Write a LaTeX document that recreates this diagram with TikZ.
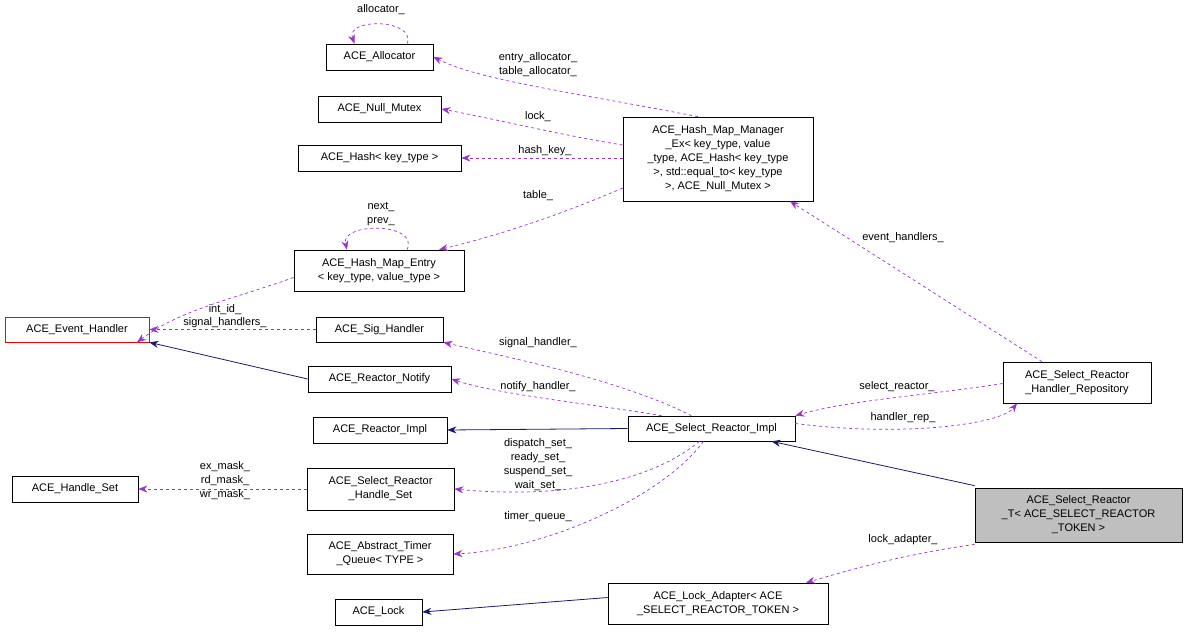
\documentclass[tikz,border=0pt]{standalone}
\usepackage{fontspec}
\setmainfont{Liberation Sans}
\usetikzlibrary{arrows.meta}
\begin{document}
\begin{tikzpicture}[x=1pt,y=-1pt,
 every node/.style={font=\fontsize{11}{14}\selectfont},
 box/.style={draw=black,fill=white,align=center,inner sep=1pt,line width=0.7pt},
 use/.style={draw={rgb,255:red,154;green,50;blue,205},dashed,line width=0.7pt,-{Stealth[length=9pt,width=7pt]}},
 inh/.style={draw={rgb,255:red,25;green,25;blue,112},line width=0.8pt,-{Stealth[length=9pt,width=7pt]}},
 lbl/.style={align=center,inner sep=0pt}]
\useasboundingbox (0,0) rectangle (1187,632);
\node[box,minimum width=107,minimum height=26] (alloc) at (379.5,57) {ACE\_Allocator};
\node[box,minimum width=123,minimum height=26] (nullm) at (379.5,109) {ACE\_Null\_Mutex};
\node[box,minimum width=163,minimum height=26] (hash) at (379.5,158) {ACE\_Hash\textless{} key\_type \textgreater};
\node[box,minimum width=170,minimum height=41] (entry) at (379,270.5) {ACE\_Hash\_Map\_Entry\\\textless{} key\_type, value\_type \textgreater};
\node[box,draw=red,minimum width=144,minimum height=25] (evh) at (77,329.5) {ACE\_Event\_Handler};
\node[box,minimum width=127,minimum height=25] (sig) at (379.5,329.5) {ACE\_Sig\_Handler};
\node[box,minimum width=143,minimum height=26] (notify) at (379.5,379) {ACE\_Reactor\_Notify};
\node[box,minimum width=134,minimum height=26] (rimpl) at (380,430) {ACE\_Reactor\_Impl};
\node[box,minimum width=126,minimum height=26] (hset) at (75,489) {ACE\_Handle\_Set};
\node[box,minimum width=147,minimum height=42] (srhs) at (380.5,489) {ACE\_Select\_Reactor\\\_Handle\_Set};
\node[box,minimum width=146,minimum height=40] (timer) at (380,554) {ACE\_Abstract\_Timer\\\_Queue\textless{} TYPE \textgreater};
\node[box,minimum width=87,minimum height=26] (lock) at (378.5,612) {ACE\_Lock};
\node[box,minimum width=190,minimum height=84] (mgr) at (718,159) {ACE\_Hash\_Map\_Manager\\\_Ex\textless{} key\_type, value\\\_type, ACE\_Hash\textless{} key\_type\\\textgreater, std::equal\_to\textless{} key\_type\\\textgreater, ACE\_Null\_Mutex \textgreater};
\node[box,minimum width=167,minimum height=25] (impl) at (711.5,428.5) {ACE\_Select\_Reactor\_Impl};
\node[box,minimum width=148,minimum height=41] (repo) at (1077,382.5) {ACE\_Select\_Reactor\\\_Handler\_Repository};
\node[box,fill={rgb,255:red,191;green,191;blue,191},minimum width=207,minimum height=54] (T) at (1078.5,515) {ACE\_Select\_Reactor\\\_T\textless{} ACE\_SELECT\_REACTOR\\\_TOKEN \textgreater};
\node[box,minimum width=220,minimum height=41] (ladapt) at (718,603.5) {ACE\_Lock\_Adapter\textless{} ACE\\\_SELECT\_REACTOR\_TOKEN \textgreater};

% loops
\draw[use] ([xshift=28]alloc.north) .. controls (415,18) and (345,18) .. ([xshift=-25]alloc.north);
\node[lbl] at (381,10) {allocator\_};
\draw[use] ([xshift=28]entry.north) .. controls (420,222) and (340,222) .. ([xshift=-32]entry.north);
\node[lbl] at (381,214) {next\_\\prev\_};

% uses
\draw[use] ([xshift=-20]mgr.north) .. controls (560,90) and (480,80) .. (alloc.east);
\node[lbl] at (538,65) {entry\_allocator\_\\table\_allocator\_};
\draw[use] ([yshift=14]mgr.west) .. controls (560,135) and (500,120) .. (nullm.east);
\node[lbl] at (538,117) {lock\_};
\draw[use] (mgr.west |- hash) -- (hash.east);
\node[lbl] at (545,151) {hash\_key\_};
\draw[use] ([yshift=-29]mgr.west) .. controls (560,215) and (500,235) .. ([xshift=60]entry.north);
\node[lbl] at (538,196) {table\_};
\draw[use] ([yshift=-7]entry.west) .. controls (230,300) and (180,310) .. ([xshift=60]evh.south);
\node[lbl] at (225,310) {int\_id\_};
\draw[use] (sig.west) -- (evh.east);
\node[lbl,fill=white,inner sep=1pt] at (225,323) {signal\_handlers\_};
\draw[inh] (notify.west) -- (evh.south east);
\draw[use] ([xshift=-20]impl.north) .. controls (620,380) and (520,360) .. (sig.south east);
\node[lbl] at (538,343) {signal\_handler\_};
\draw[use] ([xshift=-50]impl.north) .. controls (600,405) and (500,395) .. (notify.east);
\node[lbl] at (538,387) {notify\_handler\_};
\draw[inh] (impl.west) -- (rimpl.east);
\draw[use] ([xshift=-12]impl.south) .. controls (640,490) and (540,497) .. (srhs.east);
\node[lbl] at (538,465) {dispatch\_set\_\\ready\_set\_\\suspend\_set\_\\wait\_set\_};
\draw[use] (srhs.west) -- (hset.east);
\node[lbl] at (225,481) {ex\_mask\_\\rd\_mask\_\\wr\_mask\_};
\draw[use] ([xshift=-8]impl.south) .. controls (660,500) and (540,550) .. (timer.east);
\node[lbl] at (538,517) {timer\_queue\_};
\draw[use] ([xshift=-35]repo.north) -- ([xshift=72]mgr.south);
\node[lbl] at (903,238) {event\_handlers\_};
\draw[use] ([yshift=-1]repo.west) .. controls (930,395) and (850,400) .. (impl.north east);
\node[lbl] at (897,387) {select\_reactor\_};
\draw[use] ([yshift=5]impl.east) .. controls (900,437) and (1000,425) .. ([xshift=-60]repo.south);
\node[lbl] at (903,418) {handler\_rep\_};
\draw[inh] ([yshift=2]T.north west) -- ([xshift=60]impl.south);
\draw[use] ([yshift=-2]T.south west) .. controls (900,555) and (850,570) .. ([xshift=88]ladapt.north);
\node[lbl] at (903,540) {lock\_adapter\_};
\draw[inh] ([yshift=6]ladapt.west) -- (lock.east);
\end{tikzpicture}
\end{document}
